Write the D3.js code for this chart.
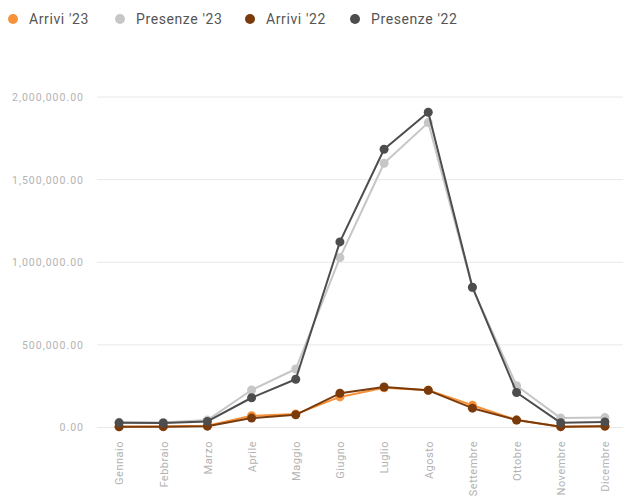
<!DOCTYPE html>
<html>
<head>
<meta charset="utf-8">
<script src="https://cdn.jsdelivr.net/npm/d3@7"></script>
<style>
html,body{margin:0;padding:0;background:#fff;}
svg{display:block;font-family:"Roboto","Open Sans",sans-serif;}
</style>
</head>
<body>
<svg id="chart" width="623" height="496"></svg>
<script>
const months = ["Gennaio","Febbraio","Marzo","Aprile","Maggio","Giugno","Luglio","Agosto","Settembre","Ottobre","Novembre","Dicembre"];
const arrivi23   = [5000, 6000, 10000, 71000, 81000, 185000, 240000, 225000, 135000, 45000, 5000, 8000];
const presenze23 = [32000, 30000, 45000, 227000, 354000, 1028000, 1599000, 1845000, 845000, 253000, 57000, 60000];
const arrivi22   = [4000, 5000, 8000, 57000, 77000, 207000, 245000, 225000, 117000, 45000, 5000, 8000];
const presenze22 = [28000, 27000, 37000, 180000, 292000, 1123000, 1684000, 1908000, 849000, 212000, 28000, 33000];
const yTicks = [0, 500000, 1000000, 1500000, 2000000];
const seriesNames = ["Arrivi '23", "Presenze '23", "Arrivi '22", "Presenze '22"];
const seriesColors = ["#f7923a", "#c6c6c6", "#7a3b0c", "#4d4d4d"];

const series = [arrivi23, presenze23, arrivi22, presenze22].map((v, i) => ({name: seriesNames[i], color: seriesColors[i], values: v}));

const svg = d3.select("#chart");
const x = d3.scalePoint().domain(months).range([97, 627]).padding(0.5);
const y = d3.scaleLinear().domain([0, 2000000]).range([427.5, 97]);

// gridlines
svg.append("g").selectAll("line").data(yTicks).join("line")
  .attr("x1", 97).attr("x2", 623)
  .attr("y1", d => y(d)).attr("y2", d => y(d))
  .attr("stroke", "#e8e8e8").attr("stroke-width", 1);

const yAxis = d3.axisLeft(y).tickValues(yTicks).tickFormat(d3.format(",.2f")).tickSize(0).tickPadding(13);
const gy = svg.append("g").attr("transform", "translate(97,0)").call(yAxis);
gy.select(".domain").remove();
gy.selectAll("text").attr("fill", "#b3b3b3").attr("font-size", "10.5px")
  .attr("font-family", "Roboto, sans-serif").attr("letter-spacing", "1px");

// x axis labels
const xAxis = d3.axisBottom(x).tickSize(0).tickPadding(0);
const gx = svg.append("g").attr("transform", "translate(0,441)").call(xAxis);
gx.select(".domain").remove();
gx.selectAll("text")
  .attr("fill", "#b3b3b3").attr("font-size", "11px").attr("letter-spacing", "0.5px")
  .attr("font-family", "Roboto, sans-serif")
  .attr("transform", "rotate(-90)")
  .attr("text-anchor", "end")
  .attr("x", 0).attr("y", 0).attr("dx", "0").attr("dy", "0.35em");

// lines and dots
const line = d3.line().x((d, i) => x(months[i])).y(d => y(d));
const g = svg.append("g");
series.forEach(s => {
  g.append("path").datum(s.values)
    .attr("d", line).attr("fill", "none")
    .attr("stroke", s.color).attr("stroke-width", 2).attr("stroke-linejoin", "round");
  g.append("g").selectAll("circle").data(s.values).join("circle")
    .attr("cx", (d, i) => x(months[i])).attr("cy", d => y(d))
    .attr("r", 4.5).attr("fill", s.color);
});

// legend
const legendX = [13, 120, 250, 355];
const lg = svg.append("g");
series.forEach((s, i) => {
  lg.append("circle").attr("cx", legendX[i]).attr("cy", 19).attr("r", 5).attr("fill", s.color);
  lg.append("text").attr("x", legendX[i] + 16).attr("y", 24)
    .attr("font-size", "14px").attr("letter-spacing", "0.6px").attr("fill", "#555").text(s.name);
});
</script>
</body>
</html>
